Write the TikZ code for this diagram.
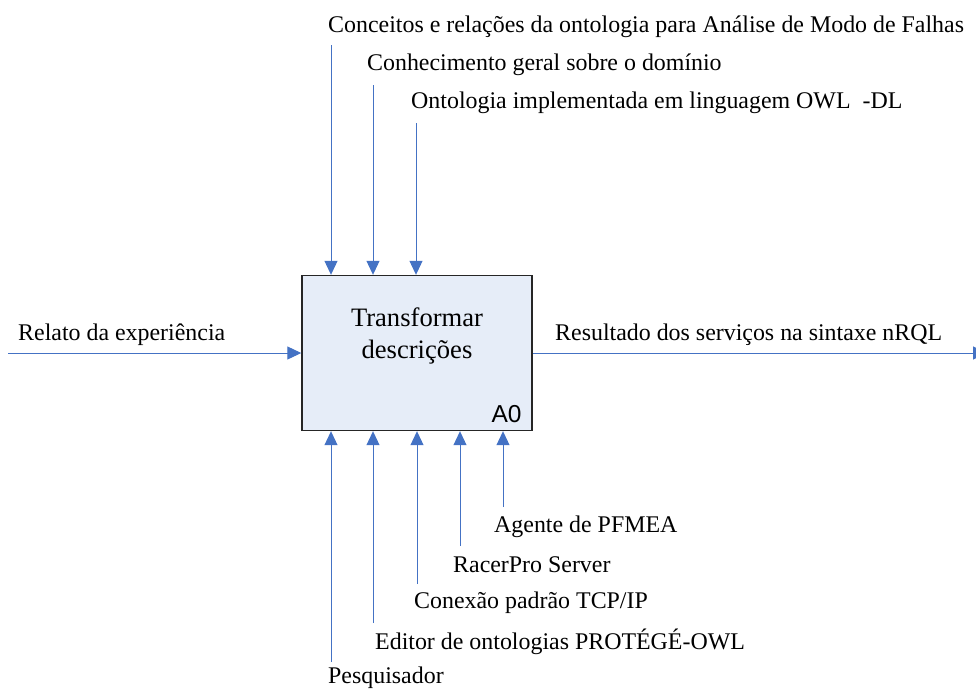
\documentclass[tikz,border=0pt]{standalone}
\usepackage{fontspec}
\setmainfont{Liberation Serif}
\newfontfamily\boxsans{Liberation Sans}
\usepackage{xcolor}
\usetikzlibrary{positioning, arrows.meta, calc}
\definecolor{idefblue}{HTML}{4472C4}
\definecolor{idefbox}{HTML}{E6EDF8}

\tikzset{
  flow/.style={draw=idefblue, line width=1pt, -{Triangle[length=14pt, width=13pt]}, color=idefblue},
  lbl/.style={anchor=west, inner sep=0pt, font=\fontsize{23.9}{28}\selectfont},
}

\begin{document}
\begin{tikzpicture}[x=1pt, y=-1pt]
    \clip (0,0) rectangle (976,691);
    \useasboundingbox (0,0) rectangle (976,691);

    \node[draw=black!85, line width=1.4pt, fill=idefbox, minimum width=230pt,
          minimum height=155pt, inner sep=0pt] (box) at (417,353) {};
    \node[align=center, font=\fontsize{26.6}{32}\selectfont] (title) at (417,336)
      {Transformar\\descrições};
    \node[anchor=south east, inner xsep=11pt, inner ysep=8pt, font=\boxsans\fontsize{24.5}{28}\selectfont]
      (a0) at (box.south east) {A0};

    % controles
    \node[lbl] (ctrlA) at (328,27) {Conceitos e relações da ontologia para Análise de Modo de Falhas};
    \node[lbl] (ctrlB) at (367,65) {Conhecimento geral sobre o domínio};
    \node[lbl] (ctrlC) at (411,103) {Ontologia implementada em linguagem OWL\ \ -DL};
    \coordinate (cA) at (331,45);
    \coordinate (cB) at (373,85);
    \coordinate (cC) at (416,123);
    \foreach \c in {cA, cB, cC}
      \draw[flow] (\c) -- (\c |- box.north);

    % entrada e saida
    \node[lbl] (inp) at (18,335) {Relato da experiência};
    \node[lbl] (outp) at (555,335) {Resultado dos serviços na sintaxe nRQL};
    \coordinate (inStart) at (8,353);
    \coordinate (outEnd) at (987,353);
    \draw[flow] (inStart) -- (box.west);
    \draw[flow] (box.east) -- (outEnd);

    % mecanismos
    \node[lbl] (mecA) at (328,678) {Pesquisador};
    \node[lbl] (mecB) at (375,642) {Editor de ontologias PROTÉGÉ-OWL};
    \node[lbl] (mecC) at (414,603) {Conexão padrão TCP/IP};
    \node[lbl] (mecD) at (453,565) {RacerPro Server};
    \node[lbl] (mecE) at (494,527) {Agente de PFMEA};
    \coordinate (mA) at (331,662);
    \coordinate (mB) at (373,623);
    \coordinate (mC) at (417,584);
    \coordinate (mD) at (460,546);
    \coordinate (mE) at (503,507);
    \foreach \m in {mA, mB, mC, mD, mE}
      \draw[flow] (\m) -- (\m |- box.south);
\end{tikzpicture}
\end{document}
